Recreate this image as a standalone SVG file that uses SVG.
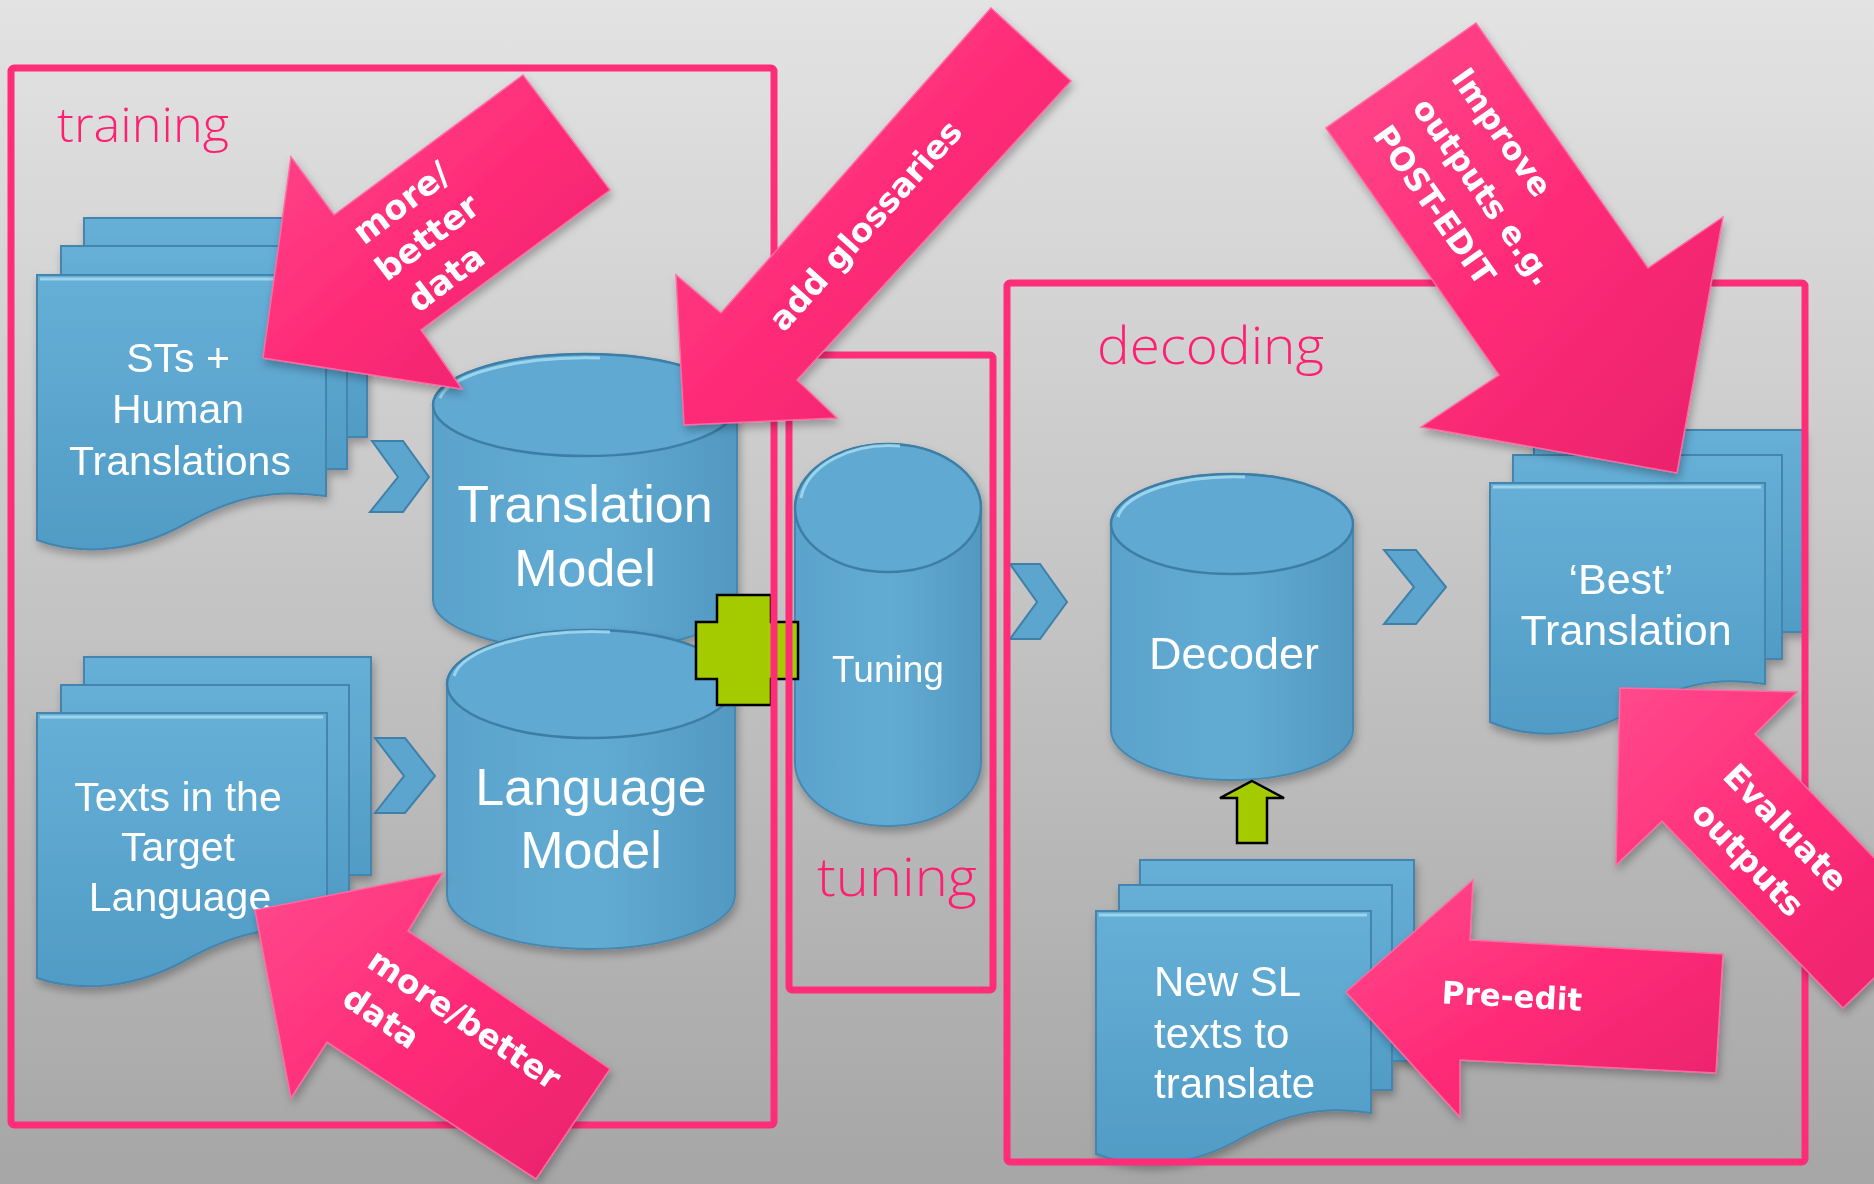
<svg xmlns="http://www.w3.org/2000/svg" width="1874" height="1184" viewBox="0 0 1874 1184">
<defs>
<linearGradient id="bg" x1="0" y1="0" x2="0" y2="1">
<stop offset="0" stop-color="#e3e3e3"/><stop offset="1" stop-color="#a6a6a6"/>
</linearGradient>
<linearGradient id="blue" x1="0" y1="0" x2="0" y2="1">
<stop offset="0" stop-color="#66afd7"/><stop offset="1" stop-color="#509cc6"/>
</linearGradient>
<linearGradient id="cyl" x1="0" y1="0" x2="1" y2="0">
<stop offset="0" stop-color="#5aa3cc"/><stop offset="0.5" stop-color="#62acd4"/><stop offset="1" stop-color="#5299c2"/>
</linearGradient>
<linearGradient id="pink" x1="0" y1="0" x2="1" y2="1">
<stop offset="0" stop-color="#ff4a8c"/><stop offset="0.5" stop-color="#ff2b77"/><stop offset="1" stop-color="#e8226b"/>
</linearGradient>
<filter id="sh" x="-10%" y="-10%" width="130%" height="130%">
<feDropShadow dx="2" dy="5" stdDeviation="4" flood-color="#000" flood-opacity="0.28"/>
</filter>
<style>
.box{fill:none;stroke:#ff2d78;stroke-width:7;}
.lbl{font-family:"Open Sans","Liberation Sans",sans-serif;font-weight:300;fill:#ff1f70;}
.doc{fill:url(#blue);stroke:#4585ad;stroke-width:2;}
.cyl{fill:url(#cyl);stroke:#4788b0;stroke-width:2;}
.top{fill:#60a9d2;stroke:#3e7ea6;stroke-width:2.5;}
.hl{fill:none;stroke:#a9def2;stroke-width:3;opacity:0.8;}
.bt{font-family:"Liberation Sans",Arial,sans-serif;fill:#ffffff;text-anchor:middle;}
.chev{fill:#5ba5cf;stroke:#3f80a8;stroke-width:2;}
.grn{fill:#a4cb00;stroke:#000;stroke-width:2.5;}
.arr{fill:url(#pink);stroke:#ff6aa3;stroke-width:1.5;}
.at{font-family:"DejaVu Sans","Liberation Sans",sans-serif;font-weight:bold;fill:#ffffff;}
</style>
</defs>
<rect x="0" y="0" width="1874" height="1184" fill="url(#bg)"/>

<g id="doc-sts" filter="url(#sh)">
<rect class="doc" x="84" y="218" width="283" height="219"/>
<rect class="doc" x="61" y="246" width="286" height="223"/>
<path class="doc" d="M37,275 H326 V496 C270,488 232,498 185,524 C135,552 80,556 37,540 Z"/>
<path class="hl" d="M40,279 H322"/>
<text class="bt" font-size="41" x="178" y="372">STs +</text>
<text class="bt" font-size="41" x="178" y="423">Human</text>
<text class="bt" font-size="41" x="180" y="475">Translations</text>
</g>

<g id="doc-texts" filter="url(#sh)">
<rect class="doc" x="84" y="657" width="287" height="218"/>
<rect class="doc" x="61" y="685" width="288" height="222"/>
<path class="doc" d="M37,713 H327 V932 C271,924 233,934 186,960 C136,988 81,993 37,978 Z"/>
<path class="hl" d="M40,717 H323"/>
<text class="bt" font-size="41" x="178" y="811">Texts in the</text>
<text class="bt" font-size="41" x="178" y="861">Target</text>
<text class="bt" font-size="41" x="180" y="911">Language</text>
</g>

<g id="cyl-tm" filter="url(#sh)">
<path class="cyl" d="M433,405 L433,600 A152,51 0 0 0 737,600 L737,405 A152,51 0 0 0 433,405 Z"/>
<ellipse class="top" cx="585" cy="405" rx="152" ry="51"/>
<path class="hl" d="M440,398 A148,46 0 0 1 600,358"/>
<text class="bt" font-size="52" x="585" y="522">Translation</text>
<text class="bt" font-size="52" x="585" y="586">Model</text>
</g>

<g id="cyl-lm" filter="url(#sh)">
<path class="cyl" d="M447,684 L447,895 A144,54 0 0 0 735,895 L735,684 A144,54 0 0 0 447,684 Z"/>
<ellipse class="top" cx="591" cy="684" rx="144" ry="54"/>
<path class="hl" d="M454,676 A140,49 0 0 1 610,632"/>
<text class="bt" font-size="52" x="591" y="805">Language</text>
<text class="bt" font-size="52" x="591" y="868">Model</text>
</g>

<g id="cyl-tuning" filter="url(#sh)">
<path class="cyl" d="M795,508 L795,762 A93,64 0 0 0 981,762 L981,508 A93,64 0 0 0 795,508 Z"/>
<ellipse class="top" cx="888" cy="508" rx="93" ry="64"/>
<path class="hl" d="M801,498 A89,59 0 0 1 900,446"/>
<text class="bt" font-size="37" x="888" y="682">Tuning</text>
</g>

<g id="cyl-decoder" filter="url(#sh)">
<path class="cyl" d="M1111,524 L1111,730 A121,50 0 0 0 1353,730 L1353,524 A121,50 0 0 0 1111,524 Z"/>
<ellipse class="top" cx="1232" cy="524" rx="121" ry="50"/>
<path class="hl" d="M1118,517 A117,45 0 0 1 1245,477"/>
<text class="bt" font-size="45" x="1234" y="669">Decoder</text>
</g>

<g id="doc-best" filter="url(#sh)">
<rect class="doc" x="1534" y="430" width="269" height="202"/>
<rect class="doc" x="1513" y="455" width="269" height="204"/>
<path class="doc" d="M1490,483 H1765 V684 C1712,676 1676,686 1632,711 C1584,738 1532,740 1490,722 Z"/>
<path class="hl" d="M1493,487 H1761"/>
<text class="bt" font-size="43" x="1621" y="594">‘Best’</text>
<text class="bt" font-size="43" x="1626" y="645">Translation</text>
</g>

<g id="doc-newsl" filter="url(#sh)">
<rect class="doc" x="1140" y="860" width="274" height="201"/>
<rect class="doc" x="1119" y="885" width="273" height="205"/>
<path class="doc" d="M1096,911 H1371 V1113 C1318,1105 1282,1115 1238,1140 C1190,1167 1138,1170 1096,1154 Z"/>
<path class="hl" d="M1099,915 H1367"/>
<text class="bt" font-size="42" x="1154" y="996" style="text-anchor:start">New SL</text>
<text class="bt" font-size="42" x="1154" y="1048" style="text-anchor:start">texts to</text>
<text class="bt" font-size="42" x="1154" y="1098" style="text-anchor:start">translate</text>
</g>

<g id="connectors">
<polygon class="chev" points="372,441 403,441 429,477 403,512 370,512 398,477"/>
<polygon class="chev" points="375,738 405,738 435,776 405,813 375,813 404,776"/>
<polygon class="chev" points="1010,564 1040,564 1067,602 1040,639 1010,639 1037,602"/>
<polygon class="chev" points="1384,550 1416,550 1446,587 1416,624 1384,624 1414,587"/>
<path class="grn" d="M717,595 H771 V622 H798 V679 H771 V705 H717 V679 H696 V622 H717 Z"/>
<polygon class="grn" points="1252,781 1284,798 1267,798 1267,843 1237,843 1237,798 1220,798"/>
</g>

<g id="box-training">
<rect class="box" x="11" y="68" width="763" height="1057" rx="3"/>
<text class="lbl" font-size="48" x="57" y="142" textLength="172" lengthAdjust="spacingAndGlyphs">training</text>
</g>
<g id="box-tuning">
<rect class="box" x="789" y="355" width="204" height="635" rx="3"/>
<text class="lbl" font-size="53" x="817" y="896" textLength="160" lengthAdjust="spacingAndGlyphs">tuning</text>
</g>
<g id="box-decoding">
<rect class="box" x="1007" y="283" width="798" height="879" rx="3"/>
<text class="lbl" font-size="51" x="1097" y="364" textLength="227" lengthAdjust="spacingAndGlyphs">decoding</text>
</g>

<g id="arrow-more-better-top" filter="url(#sh)">
<polygon class="arr" points="523,75 334,215 291,157 263,358 462,389 421,330 610,190"/>
<g transform="translate(427,237) rotate(-37)">
<text class="at" font-size="34" text-anchor="middle" x="0" y="-31">more/</text>
<text class="at" font-size="34" text-anchor="middle" x="0" y="12">better</text>
<text class="at" font-size="34" text-anchor="middle" x="-10" y="56">data</text>
</g>
</g>

<g id="arrow-glossaries" filter="url(#sh)">
<polygon class="arr" points="991,8 721,313 676,275 684,425 837,418 797,380 1071,81"/>
<text class="at" font-size="33" text-anchor="middle" transform="translate(865,225) rotate(-48)" x="0" y="12">add glossaries</text>
</g>

<g id="arrow-postedit" filter="url(#sh)">
<polygon class="arr" points="1326,128 1499,375 1421,427 1677,473 1723,217 1648,268 1476,23"/>
<g transform="translate(1460,71) rotate(55)">
<text class="at" font-size="32" x="0" y="12">Improve</text>
<text class="at" font-size="32" x="2" y="61">outputs e.g.</text>
<text class="at" font-size="32" x="2" y="109">POST-EDIT</text>
</g>
</g>

<g id="arrow-more-better-bottom" filter="url(#sh)">
<polygon class="arr" points="610,1069 408,931 443,873 255,910 291,1098 327,1042 536,1179"/>
<g transform="translate(372,956) rotate(34)">
<text class="at" font-size="33" x="0" y="12">more/better</text>
<text class="at" font-size="33" x="0" y="57">data</text>
</g>
</g>

<g id="arrow-preedit" filter="url(#sh)">
<polygon class="arr" points="1723,954 1470,940 1473,880 1346,992 1460,1117 1460,1060 1716,1073"/>
<text class="at" font-size="31" text-anchor="middle" transform="translate(1512,996) rotate(3)" x="0" y="11">Pre-edit</text>
</g>

<g id="arrow-evaluate" filter="url(#sh)">
<polygon class="arr" points="1620,688 1797,692 1755,734 1934,920 1843,1008 1662,821 1616,865"/>
<g transform="translate(1730,769) rotate(46)">
<text class="at" font-size="33" x="0" y="12">Evaluate</text>
<text class="at" font-size="33" x="5" y="61">outputs</text>
</g>
</g>
</svg>
